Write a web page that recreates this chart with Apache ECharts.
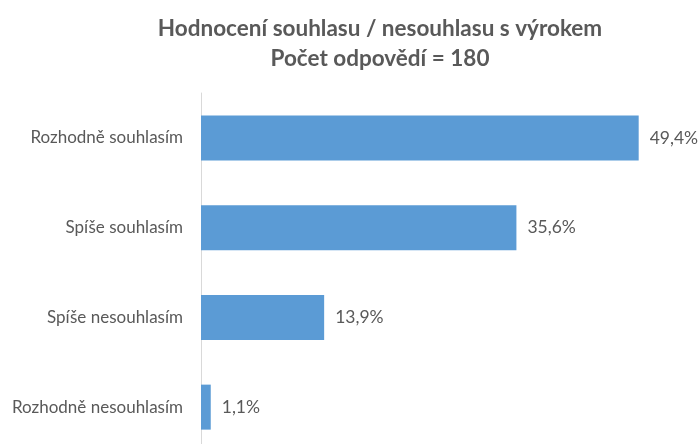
<!DOCTYPE html>
<html>
<head>
<meta charset="utf-8">
<script src="https://cdn.jsdelivr.net/npm/echarts@6/dist/echarts.min.js"></script>
<style>
  html, body { margin: 0; padding: 0; background: #fff; overflow: hidden; }
  #chart { width: 699px; height: 452px; }
</style>
</head>
<body>
<div id="chart"></div>
<script>
// kategorie a hodnoty (%)
const categories = ["Rozhodně souhlasím", "Spíše souhlasím", "Spíše nesouhlasím", "Rozhodně nesouhlasím"];
const values = [49.4, 35.6, 13.9, 1.1];

const chart = echarts.init(document.getElementById("chart"));

const option = {
  animation: false,
  title: {
    text: "Hodnocení souhlasu / nesouhlasu s výrokem\nPočet odpovědí = 180",
    left: 375,
    top: 9,
    textAlign: "center",
    textStyle: {
      fontFamily: "Lato",
      fontSize: 22.5,
      fontWeight: "bold",
      color: "#595959",
      lineHeight: 30,
    },
  },
  grid: {
    left: 201,
    right: 55,
    top: 93,
    bottom: 0,
    containLabel: false,
  },
  xAxis: {
    type: "value",
    min: 0,
    max: 50,
    show: false,
  },
  yAxis: {
    type: "category",
    inverse: true,
    data: categories,
    axisLine: { show: true, lineStyle: { color: "#d9d9d9", width: 1 } },
    axisTick: { show: false },
    axisLabel: {
      margin: 18,
      fontFamily: "Lato",
      fontSize: 17,
      color: "#595959",
    },
  },
  series: [
    {
      type: "bar",
      data: values,
      barWidth: 45,
      itemStyle: { color: "#5b9bd5" },
      label: {
        show: true,
        position: "right",
        distance: 11,
        fontFamily: "Lato",
        fontSize: 17.5,
        color: "#595959",
        formatter: (p) => p.value.toFixed(1).replace(".", ",") + "%",
      },
    },
  ],
};

chart.setOption(option);
</script>
</body>
</html>
